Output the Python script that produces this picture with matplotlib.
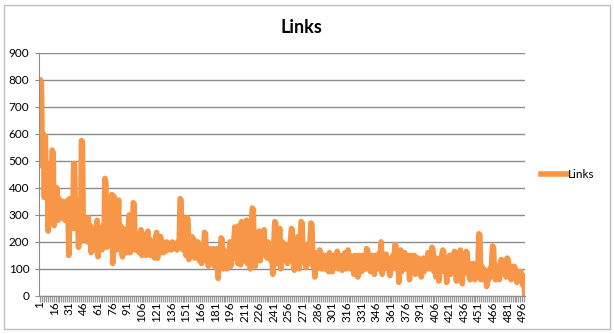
import matplotlib
matplotlib.use("Agg")
import matplotlib.pyplot as plt
from matplotlib.patches import Rectangle

plt.rcParams['font.family'] = ['Lato', 'DejaVu Sans']

# number of links per item (498 categories)
links = [
    530, 800, 790, 480, 600, 365, 590, 380, 490, 240, 470, 280, 430, 540, 530, 260, 390, 300, 400, 280, 360, 300, 340, 290, 350,
    320, 280, 340, 300, 355, 150, 360, 280, 300, 250, 490, 490, 250, 330, 300, 180, 350, 200, 575, 570, 210, 280, 230, 260, 200,
    290, 200, 260, 160, 240, 190, 250, 170, 220, 280, 145, 250, 180, 230, 170, 260, 200, 435, 420, 180, 300, 200, 250, 190, 375,
    120, 370, 200, 280, 170, 250, 355, 190, 260, 170, 145, 250, 180, 230, 160, 240, 190, 300, 160, 220, 180, 345, 340, 170, 230,
    180, 220, 160, 210, 245, 150, 230, 170, 200, 150, 220, 240, 160, 210, 150, 200, 170, 190, 140, 220, 235, 140, 200, 160, 220,
    170, 200, 160, 190, 165, 200, 170, 195, 175, 190, 170, 200, 175, 190, 180, 195, 170, 200, 180, 360, 355, 200, 170, 250, 180,
    150, 290, 285, 135, 200, 150, 220, 160, 210, 140, 190, 150, 200, 170, 130, 190, 120, 180, 150, 235, 230, 130, 170, 110, 175,
    120, 170, 130, 175, 110, 160, 140, 175, 65, 150, 120, 215, 210, 100, 170, 120, 150, 100, 160, 130, 200, 110, 180, 140, 200,
    255, 140, 250, 120, 260, 150, 115, 275, 200, 130, 260, 150, 280, 120, 230, 140, 100, 270, 325, 320, 150, 110, 220, 130, 200,
    240, 130, 230, 150, 200, 245, 160, 180, 140, 200, 150, 170, 130, 160, 80, 200, 275, 270, 120, 180, 150, 250, 100, 180, 200,
    130, 190, 150, 180, 120, 190, 140, 200, 250, 245, 120, 95, 170, 130, 190, 220, 100, 200, 275, 270, 130, 180, 120, 105, 190,
    150, 120, 200, 270, 265, 110, 150, 70, 160, 100, 140, 110, 170, 160, 100, 150, 120, 100, 150, 110, 140, 90, 160, 120, 140,
    90, 150, 110, 140, 120, 165, 100, 150, 110, 140, 95, 150, 120, 160, 100, 140, 170, 120, 150, 100, 140, 110, 80, 150, 120,
    140, 70, 150, 110, 140, 90, 150, 120, 140, 100, 175, 170, 110, 140, 90, 150, 120, 140, 80, 150, 110, 140, 100, 160, 120,
    200, 80, 140, 100, 130, 155, 110, 140, 90, 75, 130, 100, 150, 120, 190, 185, 100, 150, 50, 120, 170, 90, 150, 100, 160,
    110, 150, 100, 140, 60, 150, 90, 140, 110, 150, 80, 130, 100, 140, 90, 120, 70, 130, 140, 90, 120, 100, 110, 160, 130,
    100, 150, 180, 175, 90, 130, 70, 140, 110, 55, 120, 90, 150, 170, 165, 90, 120, 50, 130, 100, 150, 80, 150, 110, 140,
    165, 100, 55, 130, 90, 150, 170, 100, 45, 140, 90, 130, 165, 160, 80, 120, 60, 110, 80, 120, 90, 60, 100, 80, 110,
    230, 225, 60, 110, 80, 100, 60, 90, 35, 80, 60, 100, 70, 120, 185, 180, 90, 60, 110, 70, 100, 60, 120, 135, 90,
    120, 80, 130, 70, 140, 135, 90, 110, 60, 100, 80, 110, 105, 70, 50, 90, 60, 85, 90, 60, 40, 75, 5,
]
cats = list(range(1, len(links) + 1))
label_cats = cats[::15]
yticks = [0, 100, 200, 300, 400, 500, 600, 700, 800, 900]

fig = plt.figure(figsize=(6.14, 3.34), dpi=100)
ax = fig.add_axes([0.0635, 0.114, 0.792, 0.728])

ax.plot(cats, links, color='#F79646', lw=4, solid_joinstyle='round', label='Links')

ax.set_xlim(0.5, len(links) + 0.5)
ax.set_ylim(0, 900)
ax.set_yticks(yticks)
ax.yaxis.grid(True, color='#8c8c8c', lw=1)
ax.set_axisbelow(True)
ax.tick_params(axis='y', labelsize=8.5, length=3, color='#8c8c8c', pad=4)

ax.set_xticks(label_cats)
ax.set_xticklabels([str(c) for c in label_cats], rotation=90, fontsize=8.5)
ax.set_xticks([c + 0.5 for c in cats[::2]], minor=True)
ax.tick_params(axis='x', which='major', length=0, pad=4)
ax.tick_params(axis='x', which='minor', length=4, color='#9a9a9a', width=0.9)

for s in ['top', 'right']:
    ax.spines[s].set_visible(False)
ax.spines['left'].set_color('#8c8c8c')
ax.spines['bottom'].set_color('#8c8c8c')

ax.set_title('Links', fontsize=13, fontweight='bold', pad=14, x=0.54)

ax.legend(loc='center left', bbox_to_anchor=(1.01, 0.5), frameon=False,
          fontsize=8.5, handlelength=2.2, handletextpad=0.1)

fig.patches.append(Rectangle((0.006, 0.015), 0.988, 0.97, transform=fig.transFigure,
                             fill=False, edgecolor='#bfbfbf', lw=1))

fig.savefig('out.png', dpi=100)
